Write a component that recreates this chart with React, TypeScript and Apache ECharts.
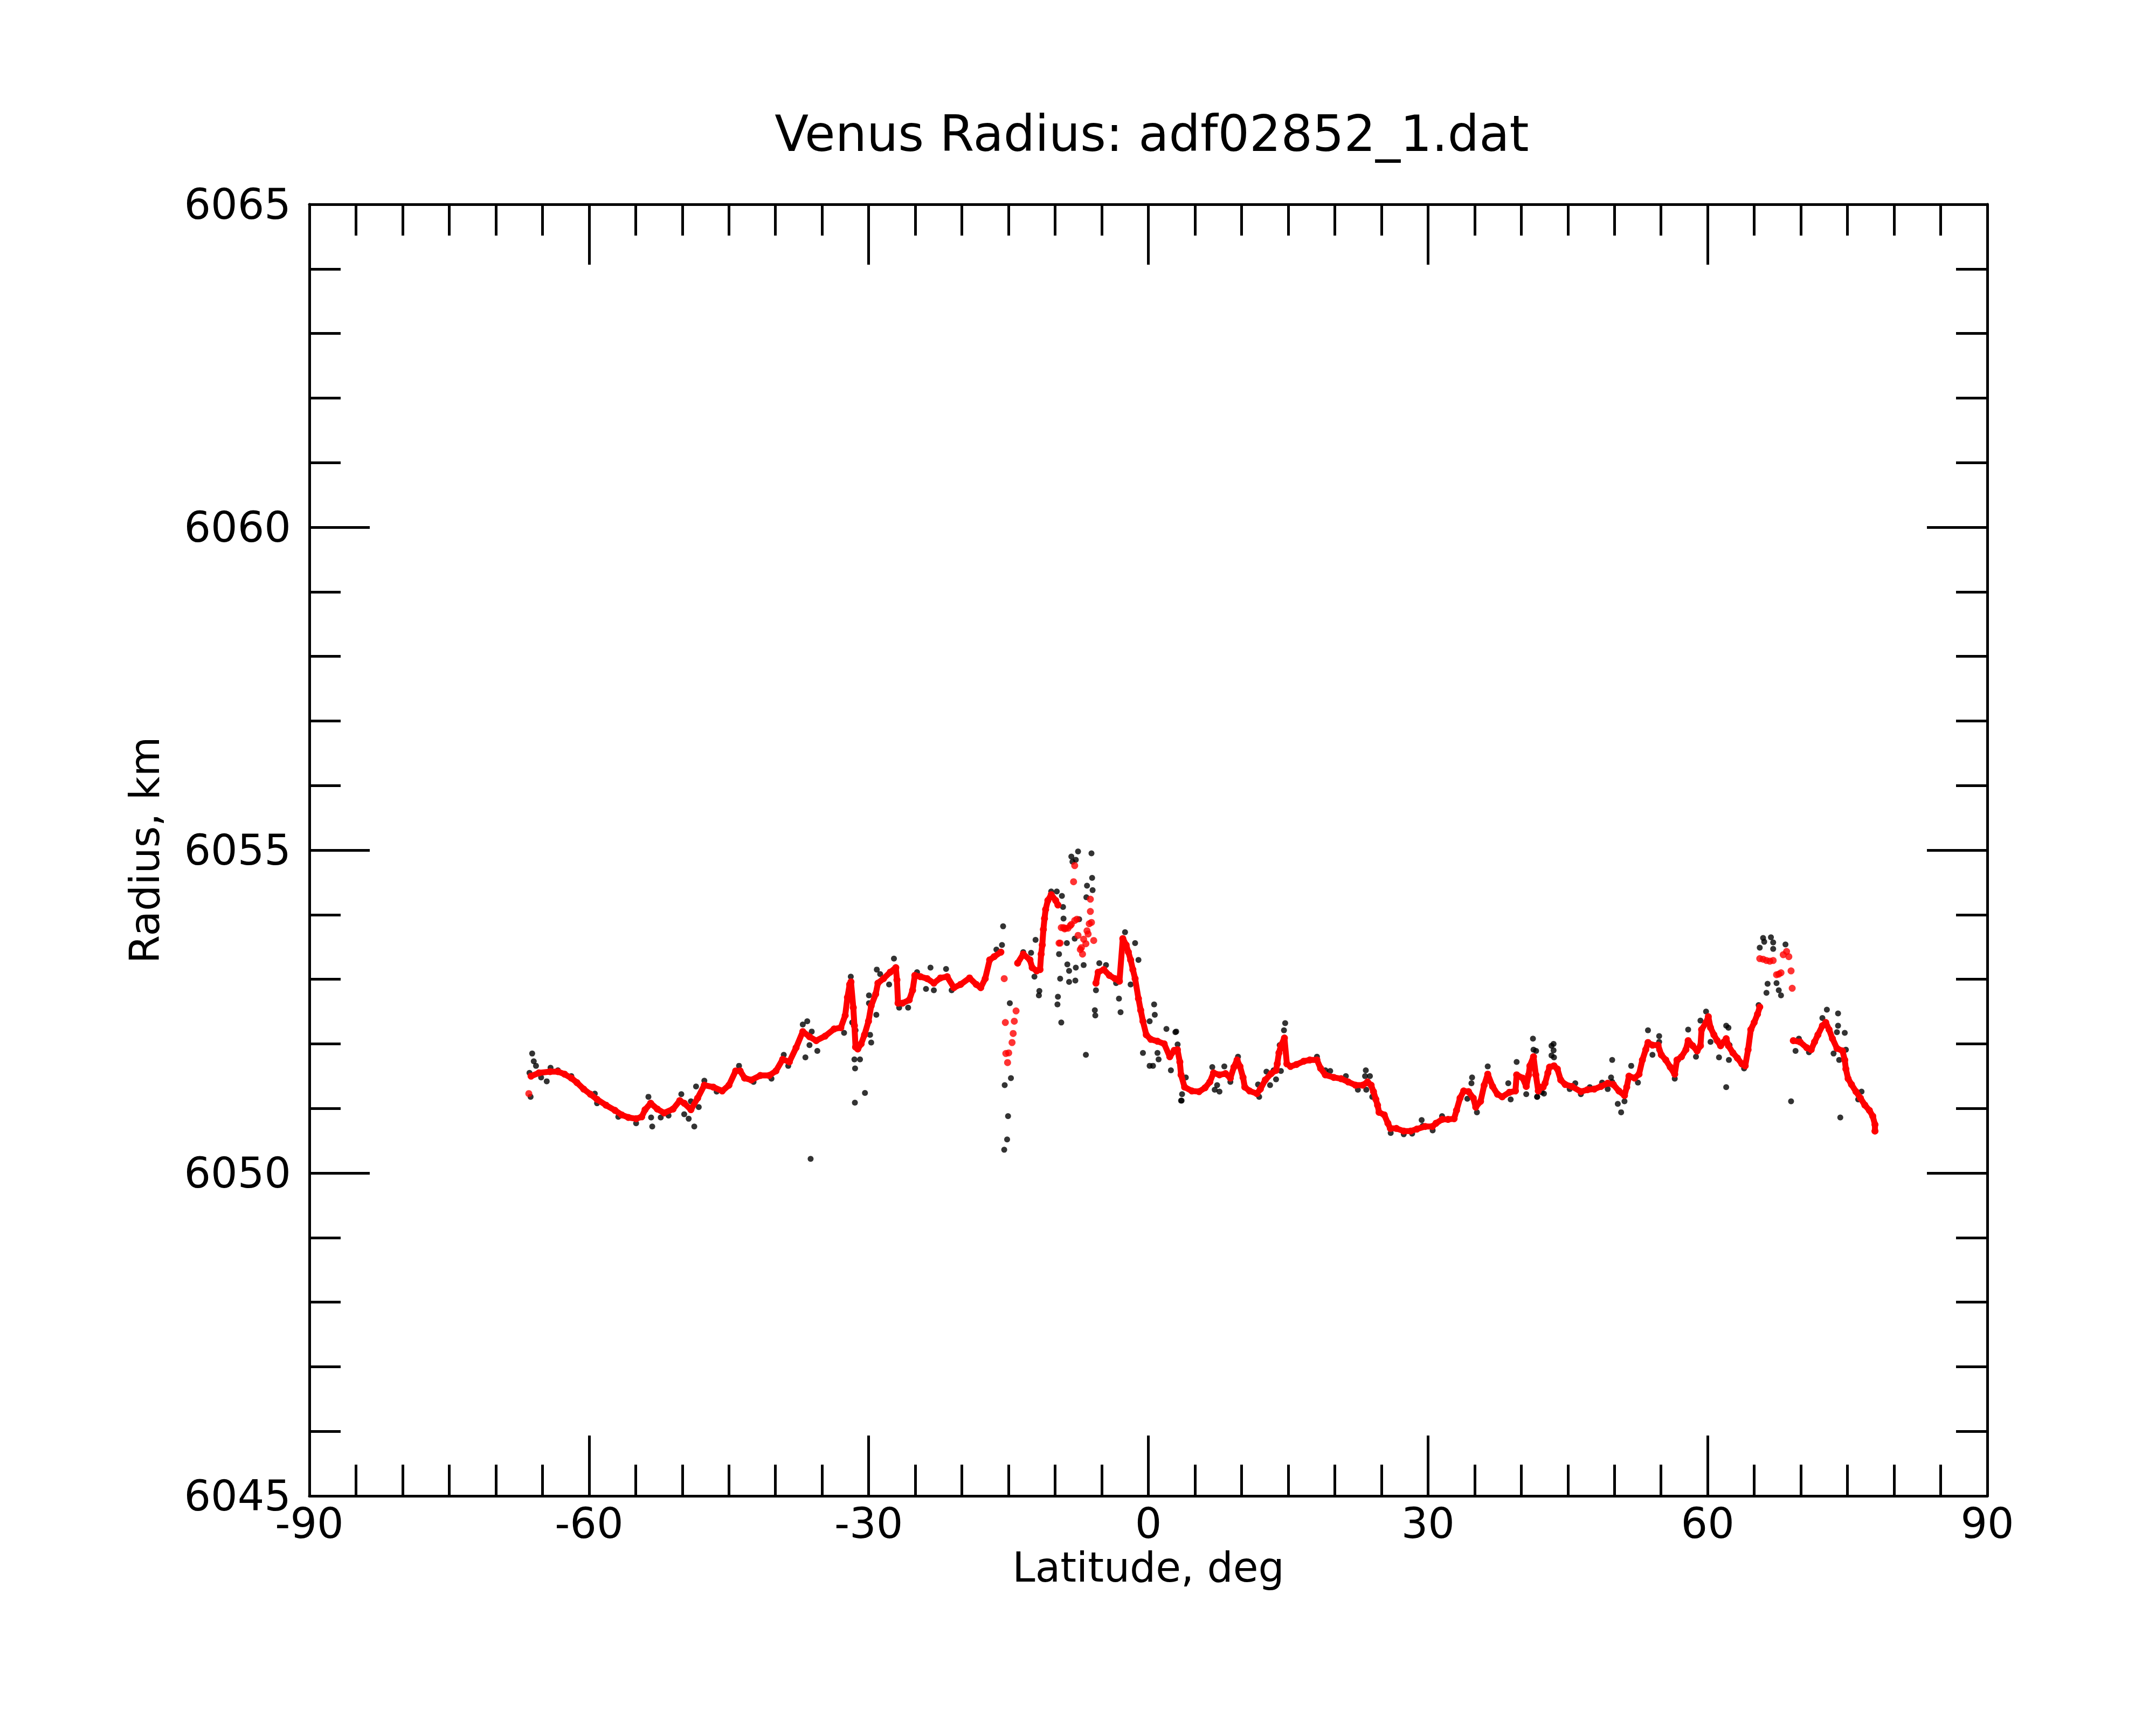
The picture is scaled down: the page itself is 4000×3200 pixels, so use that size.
import React, { useEffect, useRef } from "react";
import * as echarts from "echarts";

const TITLE = "Venus Radius: adf02852_1.dat";
const X_NAME = "Latitude, deg";
const Y_NAME = "Radius, km";
const X_MIN = -90, X_MAX = 90, X_STEP = 30;
const Y_MIN = 6045, Y_MAX = 6065, Y_STEP = 5;

// smoothed (red) profile, continuous runs
const redRunA: [number, number][] = [
  [-66.22,6051.50],[-65.38,6051.55],[-64.18,6051.57],[-63.34,6051.57],[-62.62,6051.53],[-61.90,6051.47],[-61.30,6051.40],[-60.58,6051.30],[-59.86,6051.22],[-59.14,6051.14],[-58.18,6051.05],[-57.22,6050.97],[-56.50,6050.90],[-55.78,6050.86],[-54.95,6050.84],[-54.35,6050.87],[-53.99,6050.98],[-53.39,6051.08],[-52.67,6050.99],[-51.95,6050.93],[-50.99,6050.99],[-50.27,6051.12],[-49.79,6051.08],[-49.07,6050.98],[-48.35,6051.16],[-47.63,6051.36],[-46.67,6051.33],[-45.71,6051.27],[-44.99,6051.36],[-44.27,6051.58],[-43.79,6051.58],[-43.31,6051.47],[-42.59,6051.44],[-41.63,6051.51],[-40.67,6051.51],[-39.95,6051.58],[-39.23,6051.76],[-38.51,6051.72],[-37.79,6051.94],[-37.07,6052.19],[-36.35,6052.11],[-35.63,6052.05],[-34.67,6052.12],[-33.71,6052.23],[-32.99,6052.25],[-32.52,6052.44],[-32.28,6052.72],[-32.04,6052.92],[-31.90,6052.96],[-31.65,6052.56],[-31.53,6052.28],[-31.41,6051.95],[-31.17,6051.92],[-30.81,6052.00],[-30.45,6052.14],[-30.02,6052.35],[-29.73,6052.59],[-29.25,6052.77],[-29.01,6052.94],[-28.41,6053.01],[-27.69,6053.11],[-27.09,6053.18],[-26.97,6052.99],[-26.85,6052.63],[-26.37,6052.63],[-25.65,6052.68],[-25.29,6052.83],[-25.05,6053.06],[-24.45,6053.04],[-23.73,6053.01],[-23.01,6052.94],[-22.30,6053.02],[-21.58,6053.04],[-20.86,6052.87],[-20.14,6052.92],[-19.18,6053.02],[-18.46,6052.92],[-17.98,6052.87],[-17.50,6053.01],[-17.02,6053.30],[-16.54,6053.35],[-15.82,6053.42]
];
const redRunB: [number, number][] = [
  [-14.02,6053.25],[-13.42,6053.39],[-12.70,6053.30],[-12.46,6053.18],[-11.98,6053.13],[-11.62,6053.15],[-11.50,6053.39],[-11.38,6053.53],[-11.26,6053.77],[-11.14,6053.94],[-11.02,6054.08],[-10.78,6054.22],[-10.42,6054.31],[-9.94,6054.22],[-9.70,6054.15]
];
const redRunC: [number, number][] = [
  [-5.62,6052.94],[-5.38,6053.11],[-4.78,6053.15],[-4.18,6053.06],[-3.58,6053.01],[-3.10,6052.97],[-2.74,6053.63],[-2.38,6053.53],[-2.14,6053.42],[-1.90,6053.30],[-1.66,6053.15],[-1.42,6053.01],[-1.06,6052.70],[-0.82,6052.52],[-0.58,6052.35],[-0.22,6052.14],[0.26,6052.07],[0.98,6052.04],[1.70,6052.00],[2.30,6051.80],[2.78,6051.90],[3.12,6051.91],[3.38,6051.72],[3.51,6051.52],[3.89,6051.33],[4.67,6051.27],[5.44,6051.26],[6.09,6051.32],[6.60,6051.41],[6.99,6051.55],[7.63,6051.52],[8.28,6051.54],[8.80,6051.47],[9.18,6051.64],[9.52,6051.75],[9.83,6051.65],[10.16,6051.48],[10.35,6051.33],[10.86,6051.27],[11.64,6051.23],[12.02,6051.30],[12.54,6051.44],[13.18,6051.54],[13.70,6051.59],[13.83,6051.69],[14.01,6051.86],[14.22,6051.97],[14.60,6052.09],[14.86,6051.69],[15.25,6051.65],[15.89,6051.68],[16.67,6051.73],[17.31,6051.75],[18.09,6051.75],[18.48,6051.62],[18.99,6051.52],[19.89,6051.48],[20.67,6051.46],[21.44,6051.41],[22.22,6051.36],[23.00,6051.36],[23.51,6051.41],[23.90,6051.36],[24.15,6051.26],[24.41,6051.14],[24.59,6051.05],[24.75,6050.94],[25.31,6050.90],[25.70,6050.77],[25.96,6050.69],[26.61,6050.69],[27.38,6050.65],[28.15,6050.65],[28.80,6050.68],[29.70,6050.72],[30.47,6050.72],[30.86,6050.77],[31.51,6050.83],[32.15,6050.83],[32.80,6050.84],[33.06,6050.97],[33.44,6051.16],[33.83,6051.27],[34.35,6051.26],[34.86,6051.16],[35.12,6051.02],[35.64,6051.11],[36.03,6051.36],[36.41,6051.53],[36.93,6051.34],[37.45,6051.22],[37.96,6051.18],[38.74,6051.25],[39.38,6051.27],[39.51,6051.52],[40.16,6051.47],[40.54,6051.34],[40.80,6051.52],[40.93,6051.66],[41.32,6051.80],[41.57,6051.52],[41.83,6051.27],[42.08,6051.33],[42.35,6051.33],[42.56,6051.39],[42.86,6051.55],[43.04,6051.64],[43.52,6051.66],[43.88,6051.61],[44.24,6051.44],[44.72,6051.37],[45.44,6051.34],[46.40,6051.26],[47.12,6051.29],[47.84,6051.30],[48.56,6051.34],[49.28,6051.39],[49.88,6051.37],[50.48,6051.27],[51.08,6051.20],[51.32,6051.33],[51.56,6051.50],[52.16,6051.47],[52.64,6051.53],[53.00,6051.75],[53.36,6051.91],[53.60,6052.02],[54.08,6051.98],[54.68,6051.98],[55.03,6051.83],[55.51,6051.75],[55.99,6051.64],[56.47,6051.53],[56.71,6051.75],[57.19,6051.80],[57.67,6051.91],[57.91,6052.05],[58.39,6051.97],[58.87,6051.89],[59.23,6051.97],[59.35,6052.22],[59.83,6052.33],[60.07,6052.42],[60.31,6052.25],[60.67,6052.14],[61.03,6052.05],[61.39,6051.97],[61.75,6052.03],[61.99,6052.08],[62.23,6051.97],[62.71,6051.86],[63.19,6051.78],[63.67,6051.69],[64.03,6051.66],[64.34,6051.91],[64.63,6052.22],[64.99,6052.33],[65.35,6052.46],[65.59,6052.57]
];
const redRunD: [number, number][] = [
  [69.19,6052.05],[69.91,6052.03],[70.63,6051.94],[71.11,6051.91],[71.47,6052.03],[71.83,6052.14],[72.31,6052.28],[72.67,6052.33],[73.03,6052.22],[73.39,6052.08],[73.87,6051.93],[74.47,6051.89],[74.71,6051.75],[74.83,6051.61],[75.07,6051.46],[75.43,6051.37],[75.91,6051.26],[76.39,6051.16],[76.87,6051.05],[77.35,6050.97],[77.71,6050.88],[77.95,6050.75],[77.95,6050.65]
];
// smoothed (red) isolated points
const redDots: [number, number][] = [
  [-66.46,6051.23],[-15.46,6053.01],[-15.34,6052.33],[-15.29,6051.85],[-15.10,6051.71],[-14.98,6051.86],[-14.62,6052.02],[-14.50,6052.16],[-14.38,6052.35],[-14.19,6052.51],
  [-9.58,6053.56],[-9.46,6053.56],[-9.34,6053.80],[-9.10,6053.80],[-8.98,6053.78],[-8.86,6053.79],[-8.62,6053.79],[-8.38,6053.83],[-8.26,6053.85],[-7.90,6053.91],[-7.66,6053.93],[-7.54,6053.68],[-7.30,6053.46],[-7.18,6053.49],[-7.06,6053.39],[-6.94,6053.62],[-6.70,6053.55],[-6.58,6053.75],[-6.46,6053.70],[-6.34,6053.86],[-6.22,6054.05],[-6.22,6054.24],[-6.10,6053.88],[-5.86,6053.60],[-8.02,6054.51],[-7.90,6054.76],
  [65.59,6053.32],[65.95,6053.31],[66.31,6053.29],[66.67,6053.28],[67.03,6053.29],[67.39,6053.07],[67.63,6053.08],[67.87,6053.10],[68.11,6053.38],[68.47,6053.43],[68.71,6053.35],[68.95,6053.13],[69.07,6052.86]
];
// raw (black) points
const rawPoints: [number, number][] = [
  [-66.10,6051.85],[-65.93,6051.73],[-65.69,6051.66],[-66.39,6051.55],[-66.27,6051.18],[-64.54,6051.42],[-65.14,6051.48],[-64.13,6051.63],[-63.34,6051.59],[-61.90,6051.50],[-59.38,6051.23],[-59.14,6051.08],[-56.86,6050.87],[-54.95,6050.77],[-53.63,6051.18],[-53.34,6050.86],[-53.22,6050.72],[-52.31,6050.86],[-51.47,6050.89],[-50.10,6051.22],[-49.79,6050.91],[-49.31,6050.84],[-49.07,6051.11],[-48.71,6050.72],[-48.52,6051.34],[-48.23,6051.02],[-47.63,6051.43],[-46.31,6051.26],[-43.91,6051.66],[-42.35,6051.41],[-40.43,6051.46],[-39.11,6051.83],[-38.63,6051.66],[-37.07,6052.30],[-36.59,6052.35],[-36.11,6052.19],[-36.79,6051.79],[-36.35,6051.98],[-35.51,6051.89],[-32.64,6052.17],[-31.92,6053.04],[-36.23,6050.22],
  [-31.77,6052.33],[-31.41,6052.21],[-31.53,6051.76],[-31.46,6051.62],[-31.48,6051.09],[-30.93,6051.76],[-30.40,6051.24],[-29.97,6052.75],[-29.97,6052.63],[-29.85,6052.14],[-29.73,6052.02],[-29.18,6052.45],[-29.13,6053.15],[-28.77,6053.08],[-27.81,6052.92],[-27.29,6053.32],[-26.73,6052.56],[-25.77,6052.56],[-24.81,6053.11],[-23.85,6052.85],[-23.37,6053.18],[-23.01,6052.83],[-21.70,6053.16],[-21.10,6052.83],[-16.30,6053.46],[-15.70,6053.53],[-15.58,6053.82],[-14.86,6052.63],[-14.74,6051.47],[-15.41,6051.36],[-15.05,6050.88],[-15.15,6050.52],[-15.46,6050.36],[-13.42,6053.42],[-12.10,6053.61],[-12.58,6053.41],[-12.22,6053.04],[-11.69,6052.82],[-11.74,6052.75],[-10.42,6054.36],[-9.82,6054.36],[-9.27,6054.29],[-9.15,6054.12],[-9.10,6053.94],[-9.70,6052.73],[-9.75,6052.61],[-9.58,6053.39],[-9.34,6052.33],[-9.46,6053.01],[-8.74,6053.56],[-8.69,6053.23],[-8.50,6053.13],[-8.50,6052.96],[-7.78,6053.18],[-7.83,6052.98],[-8.26,6054.90],[-8.14,6054.82],[-7.78,6054.85],[-7.54,6054.98],[-6.10,6054.95],[-6.03,6054.57],[-5.98,6054.38],[-6.58,6054.45],[-6.65,6054.27],[-6.94,6053.22],[-6.70,6051.83],[-7.42,6053.93],[-7.90,6053.63],[-5.62,6052.83],[-5.74,6052.52],[-5.69,6052.44],[-5.26,6053.25],[-4.54,6053.22],[-3.46,6052.94],[-3.15,6052.70],[-2.98,6052.49],[-2.50,6053.73],[-1.42,6053.56],[-1.06,6053.30],[-1.90,6052.92],[0.62,6052.61],[0.69,6052.45],[0.14,6052.35],[-0.58,6051.86],[0.14,6051.66],[0.50,6051.66],[0.98,6051.86],[1.10,6051.76],[1.94,6052.23],[2.42,6051.59],[2.90,6052.18],[3.14,6051.99],[3.57,6051.12],[3.62,6051.22],
  [2.99,6052.19],[3.51,6051.12],[4.02,6051.48],[6.86,6051.64],[7.38,6051.36],[7.63,6051.26],[7.12,6051.29],[8.15,6051.65],[8.80,6051.41],[9.62,6051.80],[11.77,6051.37],[11.89,6051.18],[12.67,6051.57],[13.06,6051.36],[13.44,6051.59],[13.70,6051.45],[14.22,6051.58],[14.55,6052.21],[14.68,6052.32],[14.09,6051.98],[18.09,6051.80],[18.99,6051.59],[19.51,6051.58],[21.19,6051.50],[22.48,6051.29],[23.33,6051.59],[23.25,6051.50],[23.77,6051.50],[23.38,6051.29],[24.02,6051.18],[26.00,6050.62],[27.40,6050.60],[28.30,6050.61],[29.32,6050.82],[29.44,6050.73],[30.50,6050.66],[31.51,6050.88],[34.73,6051.48],[34.66,6051.39],[34.22,6051.15],[35.25,6050.94],[36.41,6051.65],[39.51,6051.72],[38.61,6051.39],[38.87,6051.14],[40.54,6051.22],[41.26,6052.08],[41.32,6051.91],[41.70,6051.18],[42.21,6051.25],[43.25,6051.97],[43.25,6051.82],
  [41.60,6051.89],[41.72,6051.18],[42.44,6051.23],[43.47,6052.00],[43.47,6051.90],[43.52,6051.79],[45.20,6051.30],[45.80,6051.39],[46.40,6051.22],[47.36,6051.33],[48.68,6051.40],[49.28,6051.30],[49.76,6051.75],[49.64,6051.48],[49.76,6051.41],[50.36,6051.07],[50.72,6050.94],[51.08,6051.11],[51.80,6051.66],[52.52,6051.40],[53.60,6052.21],[54.08,6051.83],[54.80,6052.12],[54.80,6052.03],[54.80,6051.91],[56.47,6051.46],[56.83,6051.75],[57.91,6052.22],[58.75,6051.80],[59.83,6052.50],[59.23,6052.36],[60.31,6052.03],[61.22,6051.79],[61.99,6052.28],[62.23,6052.25],[62.28,6051.75],[62.35,6051.98],[61.99,6051.33],[63.91,6051.62],[65.47,6052.60],[65.95,6053.64],[66.07,6053.58],[65.59,6053.49],[66.79,6053.65],[67.03,6053.57],[67.03,6053.47],[68.35,6053.54],[66.43,6052.93],[66.31,6052.79],[67.39,6052.94],[67.63,6052.83],[67.87,6052.75],[68.95,6051.11],[69.43,6051.89],[69.79,6052.08],[70.87,6051.87],[72.79,6052.53],[72.31,6052.40],[73.99,6052.47],[73.99,6052.28],[73.87,6052.18],[74.71,6052.17],[74.83,6051.91],[73.51,6051.85],[74.11,6051.75],[74.23,6050.86],[76.51,6051.26],[76.15,6051.14]
];

const FONT = "DejaVu Sans";
const BLACK = "#000000";
const RED = "#ff0000";

function makeXAxis(position: "bottom" | "top", showLabel: boolean) {
  return {
    type: "value",
    position,
    min: X_MIN,
    max: X_MAX,
    interval: X_STEP,
    axisLine: { show: true, onZero: false, lineStyle: { color: BLACK, width: 5 } },
    axisTick: { show: true, inside: true, length: 112, lineStyle: { color: BLACK, width: 5 } },
    minorTick: { show: true, splitNumber: 6, length: 58, lineStyle: { color: BLACK, width: 5 } },
    splitLine: { show: false },
    minorSplitLine: { show: false },
    axisLabel: {
      show: showLabel, fontSize: 78, color: BLACK, fontFamily: FONT, margin: 12,
      formatter: (v: number) => String(v),
    },
    name: showLabel ? X_NAME : "",
    nameLocation: "middle",
    nameGap: 92,
    nameTextStyle: { fontSize: 76, color: BLACK, fontFamily: FONT },
  };
}

function makeYAxis(position: "left" | "right", showLabel: boolean) {
  return {
    type: "value",
    position,
    min: Y_MIN,
    max: Y_MAX,
    interval: Y_STEP,
    axisLine: { show: true, onZero: false, lineStyle: { color: BLACK, width: 5 } },
    axisTick: { show: true, inside: true, length: 112, lineStyle: { color: BLACK, width: 5 } },
    minorTick: { show: true, splitNumber: 5, length: 58, lineStyle: { color: BLACK, width: 5 } },
    splitLine: { show: false },
    minorSplitLine: { show: false },
    axisLabel: {
      show: showLabel, fontSize: 78, color: BLACK, fontFamily: FONT, margin: 34,
      formatter: (v: number) => String(v),
    },
    name: showLabel ? Y_NAME : "",
    nameLocation: "middle",
    nameGap: 268,
    nameTextStyle: { fontSize: 76, color: BLACK, fontFamily: FONT },
  };
}

function redRun(data: [number, number][]) {
  return {
    type: "line",
    data,
    symbol: "circle",
    symbolSize: 13,
    showSymbol: true,
    showAllSymbol: true,
    lineStyle: { color: RED, width: 11 },
    itemStyle: { color: RED },
    silent: true,
    z: 4,
  };
}

export default function App() {
  const ref = useRef<HTMLDivElement>(null);
  useEffect(() => {
    if (!ref.current) return;
    const chart = echarts.init(ref.current, undefined, { renderer: "svg" });
    chart.setOption({
      animation: false,
      backgroundColor: "#ffffff",
      textStyle: { fontFamily: FONT },
      title: {
        text: TITLE,
        left: 2132,
        top: 197,
        textAlign: "center",
        textStyle: { fontSize: 92, fontWeight: "normal", color: BLACK, fontFamily: FONT },
      },
      grid: { left: 574, top: 379, width: 3113, height: 2396, containLabel: false },
      xAxis: [makeXAxis("bottom", true), makeXAxis("top", false)],
      yAxis: [makeYAxis("left", true), makeYAxis("right", false)],
      series: [
        {
          type: "scatter",
          data: rawPoints,
          symbol: "circle",
          symbolSize: 11,
          itemStyle: { color: BLACK },
          silent: true,
          z: 2,
        },
        redRun(redRunA),
        redRun(redRunB),
        redRun(redRunC),
        redRun(redRunD),
        {
          type: "scatter",
          data: redDots,
          symbol: "circle",
          symbolSize: 13,
          itemStyle: { color: RED },
          silent: true,
          z: 5,
        },
      ],
    });
    return () => chart.dispose();
  }, []);
  return (
    <div
      ref={ref}
      style={{ position: "absolute", left: 0, top: 0, width: "4000px", height: "3200px", background: "#fff" }}
    />
  );
}
